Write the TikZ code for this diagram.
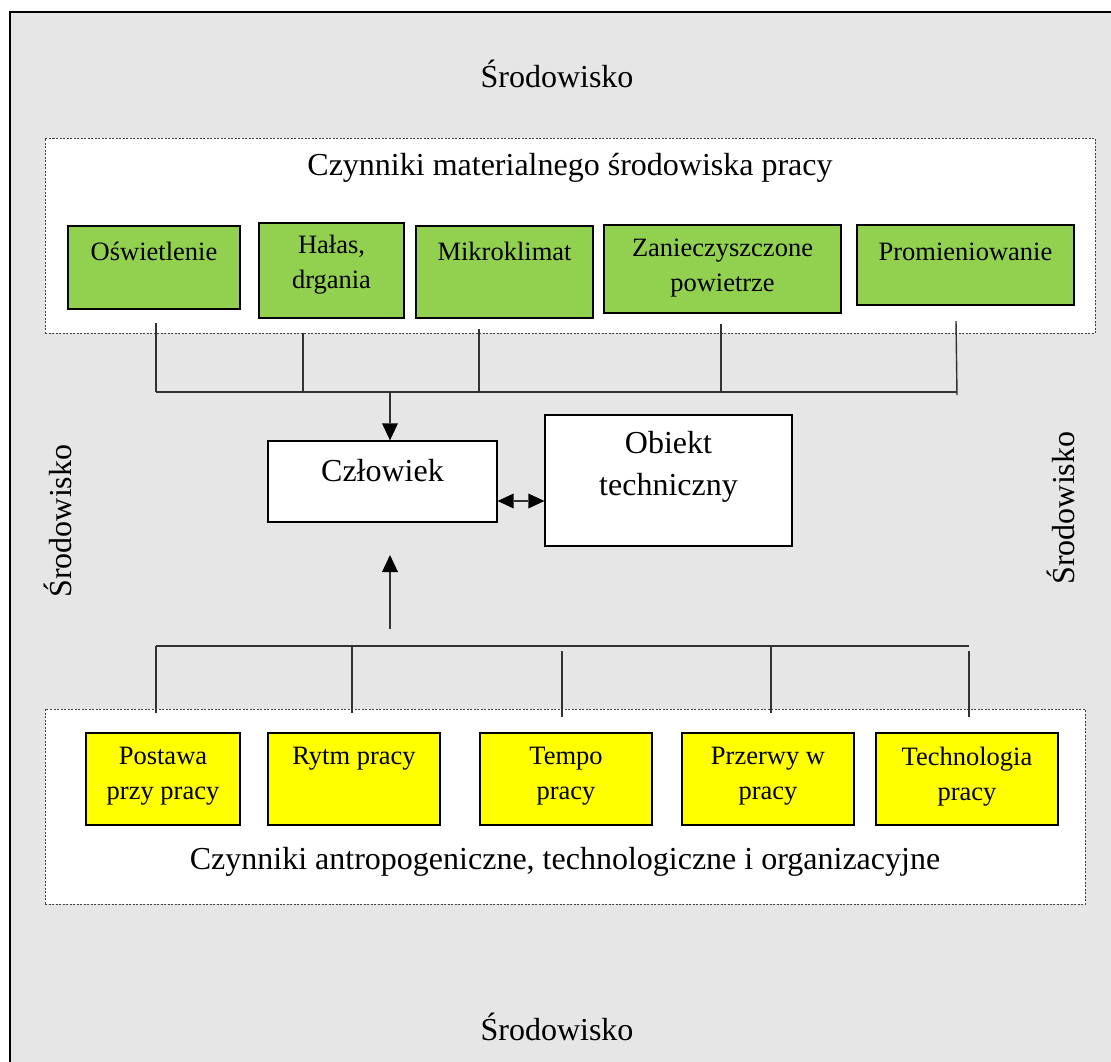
\documentclass[tikz,border=0pt]{standalone}
\usepackage{fontspec}
\setmainfont{Liberation Serif}
\usetikzlibrary{arrows.meta,calc}
\definecolor{bgray}{RGB}{230,230,230}
\definecolor{boxgreen}{RGB}{146,208,80}
\definecolor{boxyellow}{RGB}{255,255,0}
\definecolor{connc}{RGB}{50,50,50}
\begin{document}
\begin{tikzpicture}[x=1pt,y=-1pt,
  bigtext/.style={font=\fontsize{32}{42}\selectfont, inner sep=0pt, align=center},
  boxtext/.style={font=\fontsize{26.5}{35}\selectfont, inner sep=0pt, align=center},
  dashbox/.style={draw=black!75, line width=0.8pt, dash pattern=on 2pt off 1.5pt, fill=white, inner sep=0pt},
  gbox/.style={draw=black, line width=1.3pt, fill=boxgreen, inner sep=0pt},
  ybox/.style={draw=black, line width=1.3pt, fill=boxyellow, inner sep=0pt},
  wbox/.style={draw=black, line width=1.3pt, fill=white, inner sep=0pt},
  conn/.style={draw=connc, line width=1.4pt},
  arr/.style={conn, -{Triangle[width=16pt,length=17pt,fill=black,line width=0pt]}},
  darr/.style={conn, {Triangle[width=15pt,length=16pt,fill=black,line width=0pt]}-{Triangle[width=15pt,length=16pt,fill=black,line width=0pt]}}]
\useasboundingbox (0,0) rectangle (1111,1061);
\clip (0,0) rectangle (1111,1061);
\fill[white] (0,0) rectangle (1111,1061);
\draw[line width=2.6pt, fill=bgray] (10,12) rectangle (1130,1080);

% environment labels
\node[bigtext] (envtop) at (557,74) {Środowisko};
\node[bigtext] (envbot) at (557,1027) {Środowisko};
\node[bigtext, rotate=90] (envleft) at (58,521) {Środowisko};
\node[bigtext, rotate=90] (envright) at (1061,508) {Środowisko};

% upper group
\node[dashbox, minimum width=1050, minimum height=195] (mat) at (570,235.5) {};
\node[bigtext] (mattitle) at (570,168) {Czynniki materialnego środowiska pracy};

\node[gbox, minimum width=172, minimum height=83] (osw) at (154,267.5) {};
\node[gbox, minimum width=145, minimum height=95] (hal) at (331.5,270.5) {};
\node[gbox, minimum width=177, minimum height=92] (mik) at (504.5,272) {};
\node[gbox, minimum width=237, minimum height=88] (zan) at (722.5,269) {};
\node[gbox, minimum width=217, minimum height=80] (pro) at (965.5,265) {};

\node[boxtext] (oswt) at ($(osw.north)+(0,26)$) {Oświetlenie};
\node[boxtext] (halt) at ($(hal.north)+(0,42)$) {Hałas,\\drgania};
\node[boxtext] (mikt) at ($(mik.north)+(0,26)$) {Mikroklimat};
\node[boxtext] (zant) at ($(zan.north)+(0,44)$) {Zanieczyszczone\\powietrze};
\node[boxtext] (prot) at ($(pro.north)+(0,27)$) {Promieniowanie};

% upper connectors
\coordinate (u1t) at (156,323); \coordinate (u1b) at (156,392);
\coordinate (u2t) at (303,333); \coordinate (u2b) at (303,392);
\coordinate (u3t) at (479,329); \coordinate (u3b) at (479,392);
\coordinate (u4t) at (721,324); \coordinate (u4b) at (721,392);
\coordinate (u5t) at (956,321); \coordinate (u5b) at (957,395);
\coordinate (ua) at (390,392);
\draw[conn] (u1t) -- (u1b);
\draw[conn] (u2t) -- (u2b);
\draw[conn] (u3t) -- (u3b);
\draw[conn] (u4t) -- (u4b);
\draw[conn] (u5t) -- (u5b);
\draw[conn] (u1b) -- (u5b |- u1b);

% center
\node[wbox, minimum width=229, minimum height=81] (czl) at (382.5,481.5) {};
\node[bigtext] (czlt) at ($(czl.north)+(0,30)$) {Człowiek};
\node[wbox, minimum width=247, minimum height=131] (obj) at (668.5,480.5) {};
\node[bigtext] (objt) at ($(obj.north)+(0,52)$) {Obiekt\\techniczny};

\draw[arr] (ua) -- (ua |- czl.north);
\coordinate (dy) at (0,501);
\draw[darr] (czl.east |- dy) -- (obj.west |- dy);
\coordinate (la) at (390,629);
\coordinate (lt) at (390,555);
\draw[arr] (la) -- (lt);

% lower connectors
\coordinate (l1t) at (156,646); \coordinate (l1b) at (156,713);
\coordinate (l2t) at (352,646); \coordinate (l2b) at (352,713);
\coordinate (l3t) at (562,651); \coordinate (l3b) at (562,717);
\coordinate (l4t) at (771,646); \coordinate (l4b) at (771,713);
\coordinate (l5t) at (969,651); \coordinate (l5b) at (969,717);
\draw[conn] (l1t) -- (l1t -| l5t);

% lower group
\node[dashbox, minimum width=1040, minimum height=195] (ant) at (565,806.5) {};
\draw[conn] (l1t) -- (l1b);
\draw[conn] (l2t) -- (l2b);
\draw[conn] (l3t) -- (l3b);
\draw[conn] (l4t) -- (l4b);
\draw[conn] (l5t) -- (l5b);
\node[bigtext] (anttitle) at (565,862) {Czynniki antropogeniczne, technologiczne i organizacyjne};

\node[ybox, minimum width=154, minimum height=92] (pos) at (163,779) {};
\node[ybox, minimum width=172, minimum height=92] (ryt) at (354,779) {};
\node[ybox, minimum width=172, minimum height=92] (tem) at (566,779) {};
\node[ybox, minimum width=172, minimum height=92] (prz) at (768,779) {};
\node[ybox, minimum width=182, minimum height=92] (tec) at (967,779) {};

\node[boxtext] (post) at ($(pos.north)+(0,44)$) {Postawa\\przy pracy};
\node[boxtext] (rytt) at ($(ryt.north)+(0,26)$) {Rytm pracy};
\node[boxtext] (temt) at ($(tem.north)+(0,44)$) {Tempo\\pracy};
\node[boxtext] (przt) at ($(prz.north)+(0,44)$) {Przerwy w\\pracy};
\node[boxtext] (tect) at ($(tec.north)+(0,44)$) {Technologia\\pracy};
\end{tikzpicture}
\end{document}
